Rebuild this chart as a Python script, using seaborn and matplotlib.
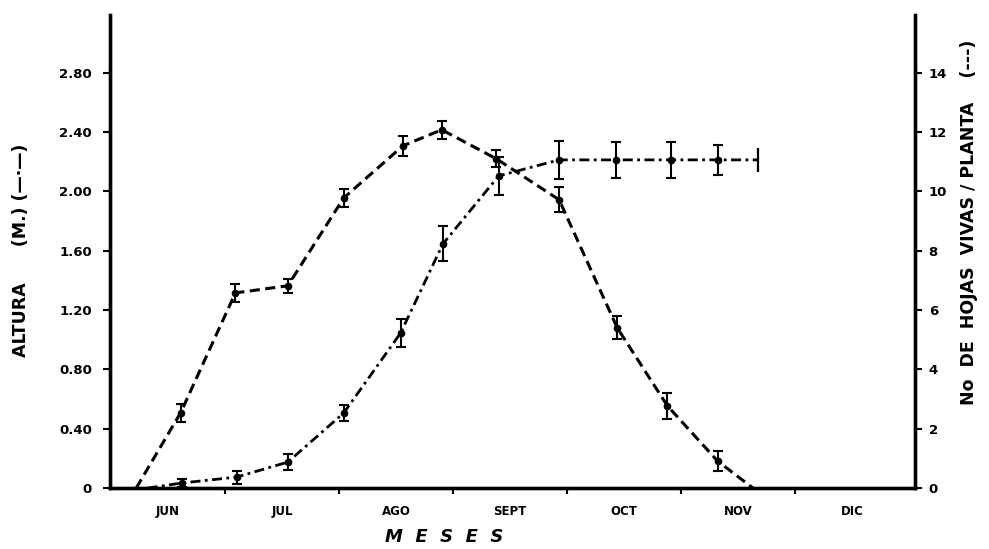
import matplotlib
matplotlib.use("Agg")
import matplotlib.pyplot as plt
import seaborn as sns
import pandas as pd

# Month names on the x axis (each month spans one unit, 0 = start of June)
months = ["JUN", "JUL", "AGO", "SEPT", "OCT", "NOV", "DIC"]

# Plant height (m) with standard error, dash-dot curve
alt_x = [0.32, 0.62, 1.10, 1.55, 2.04, 2.54, 2.91, 3.40, 3.93, 4.43, 4.91, 5.32, 5.67]
alt_m = [0.0, 0.034, 0.074, 0.175, 0.506, 1.046, 1.646, 2.105, 2.213, 2.213, 2.213, 2.213, 2.213]
alt_err = [0.0, 0.024, 0.044, 0.054, 0.054, 0.094, 0.118, 0.128, 0.13, 0.122, 0.122, 0.10, 0.08]

# Living leaves per plant with standard error, dashed curve
hoj_x = [0.22, 0.61, 1.09, 1.55, 2.04, 2.56, 2.90, 3.38, 3.93, 4.44, 4.88, 5.32, 5.63]
hoj_n = [0.0, 2.54, 6.58, 6.82, 9.78, 11.54, 12.08, 11.10, 9.72, 5.40, 2.77, 0.91, 0.0]
hoj_err = [0.0, 0.30, 0.30, 0.24, 0.30, 0.34, 0.30, 0.29, 0.42, 0.39, 0.44, 0.35, 0.0]

left_ticks = [0, 0.40, 0.80, 1.20, 1.60, 2.00, 2.40, 2.80]
left_labels = ["0", "0.40", "0.80", "1.20", "1.60", "2.00", "2.40", "2.80"]
right_ticks = [0, 2, 4, 6, 8, 10, 12, 14]

alt = pd.DataFrame({"mes": alt_x, "altura": alt_m, "err": alt_err})
hoj = pd.DataFrame({"mes": hoj_x, "hojas": hoj_n, "err": hoj_err})

sns.set_style("ticks")
plt.rcParams["font.family"] = ["DejaVu Sans"]
plt.rcParams["font.weight"] = "bold"
plt.rcParams["text.color"] = "black"
plt.rcParams["xtick.color"] = "black"
plt.rcParams["ytick.color"] = "black"

fig = plt.figure(figsize=(9.89, 5.49), dpi=100)
ax = fig.add_axes([0.1112, 0.111, 0.8138, 0.8617])
ax2 = ax.twinx()

ink = "black"
ylim_top = 3.19

# Height: dash-dot line, markers on the measured dates only
sns.lineplot(data=alt, x="mes", y="altura", ax=ax, color=ink, lw=2.0,
             linestyle=(0, (3.6, 1.6, 1.0, 1.6)), estimator=None, sort=False)
inner_a = alt.iloc[1:-1]
ax.errorbar(inner_a["mes"], inner_a["altura"], yerr=inner_a["err"], fmt="o",
            color=ink, ms=4.5, elinewidth=1.5, capsize=3.5, capthick=1.5)
end_a = alt.iloc[[-1]]
ax.errorbar(end_a["mes"], end_a["altura"], yerr=end_a["err"], fmt="none",
            color=ink, elinewidth=1.6, capsize=0)

# Leaves: dashed line
sns.lineplot(data=hoj, x="mes", y="hojas", ax=ax2, color=ink, lw=2.2,
             linestyle=(0, (3.3, 1.8)), estimator=None, sort=False)
inner_h = hoj.iloc[1:-1]
ax2.errorbar(inner_h["mes"], inner_h["hojas"], yerr=inner_h["err"], fmt="o",
             color=ink, ms=4.5, elinewidth=1.5, capsize=3.5, capthick=1.5)

ax.set_xlim(-0.01, 7.05)
ax.set_ylim(0, ylim_top)
ax2.set_ylim(0, ylim_top * 5)

# Month boundaries as ticks, names centred in each month
ax.set_xticks([1, 2, 3, 4, 5, 6])
ax.set_xticklabels([])
ax.set_xticks([i + 0.5 for i in range(len(months))], minor=True)
ax.set_xticklabels(months, minor=True, fontsize=8.5, fontweight="bold")
ax.tick_params(axis="x", which="minor", length=0, pad=12)
ax.tick_params(axis="x", which="major", length=4, width=1.5, direction="out")

ax.set_yticks(left_ticks)
ax.set_yticklabels(left_labels, fontsize=9.5, fontweight="bold")
ax.tick_params(axis="y", length=5, width=1.5, pad=8)
ax2.set_yticks(right_ticks)
ax2.set_yticklabels([str(t) for t in right_ticks], fontsize=9.5, fontweight="bold")
ax2.tick_params(axis="y", length=5, width=1.5, pad=5)

ax.set_xlabel("")
ax.set_ylabel("")
ax2.set_ylabel("")

for a in (ax, ax2):
    a.spines["top"].set_visible(False)
    for s in ("left", "right", "bottom"):
        a.spines[s].set_linewidth(2.4)
        a.spines[s].set_color(ink)

fig.text(444 / 989, 1 - 537 / 549, "M  E  S  E  S", ha="center", va="center",
         fontsize=13, fontweight="bold", style="italic")
fig.text(21 / 989, 1 - 250 / 549, "ALTURA      (M.) (—·—)", rotation=90,
         ha="center", va="center", fontsize=12.5, fontweight="bold")
fig.text(969 / 989, 1 - 222 / 549, "No  DE  HOJAS  VIVAS / PLANTA    (---)",
         rotation=90, ha="center", va="center", fontsize=12.5,
         fontweight="bold")

fig.savefig("out.png", dpi=100, facecolor="white")
